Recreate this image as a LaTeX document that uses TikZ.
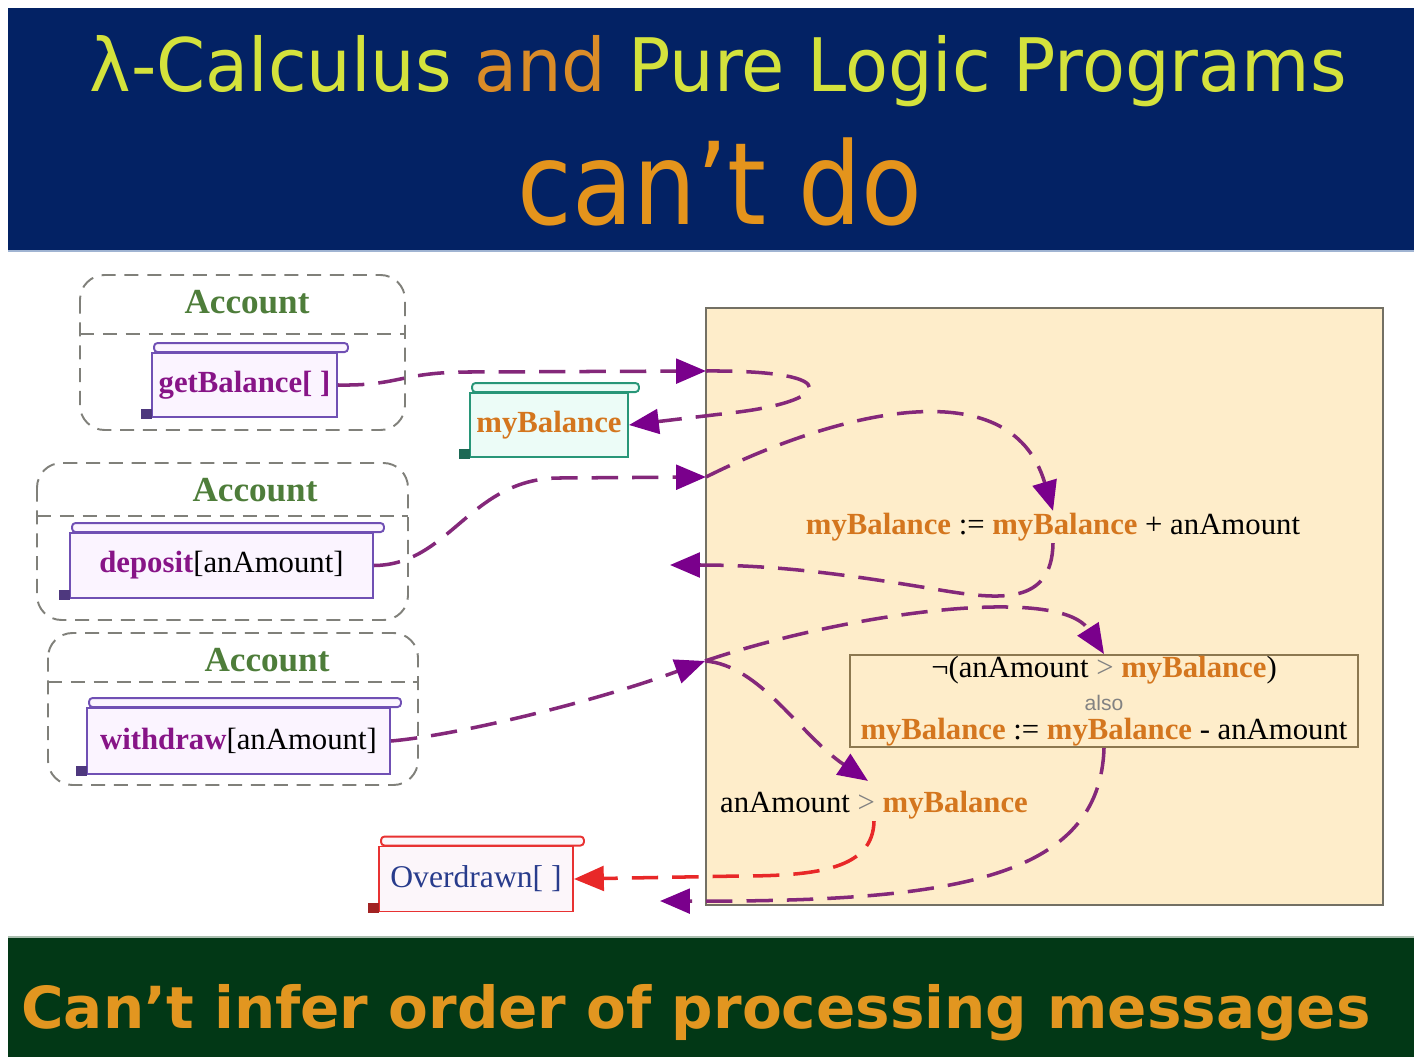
\documentclass[tikz,border=0pt]{standalone}
\usepackage{graphicx}
\usepackage{fontspec}
\setmainfont{Liberation Serif}
\newfontfamily\headfont{DejaVu Sans}
\newfontfamily\labelsans{Liberation Sans}
\usetikzlibrary{arrows.meta,calc}

\definecolor{bandblue}{RGB}{3,34,100}
\definecolor{bandgreen}{RGB}{2,56,22}
\definecolor{titleyel}{RGB}{212,226,60}
\definecolor{andorg}{RGB}{218,140,40}
\definecolor{cantorg}{RGB}{228,148,28}
\definecolor{footorg}{RGB}{226,150,32}
\definecolor{beige}{RGB}{254,237,202}
\definecolor{boxgray}{RGB}{115,112,100}
\definecolor{negframe}{RGB}{140,120,80}
\definecolor{acctgray}{RGB}{128,128,122}
\definecolor{acctgreen}{RGB}{78,125,58}
\definecolor{methpurple}{RGB}{135,20,135}
\definecolor{scrollpurple}{RGB}{112,80,180}
\definecolor{scrollfill}{RGB}{251,244,255}
\definecolor{scrollteal}{RGB}{40,150,120}
\definecolor{tealfill}{RGB}{236,252,247}
\definecolor{scrollred}{RGB}{232,50,50}
\definecolor{redfill}{RGB}{252,246,250}
\definecolor{varorange}{RGB}{212,118,30}
\definecolor{errblue}{RGB}{40,60,140}
\definecolor{msgline}{RGB}{132,40,122}
\definecolor{tipcol}{RGB}{122,0,140}
\definecolor{errred}{RGB}{232,40,40}
\definecolor{opgray}{RGB}{130,130,130}

\def\pxu{0.02cm}
\newcommand\dfont{\fontsize{17.5}{21}\selectfont}
\newcommand\vb[1]{\textcolor{varorange}{\bfseries #1}}

% scroll-shaped message node: name, position, width, height, border, fill, text
\newcommand\scrollnode[7]{%
  \node[scrollbody, draw=#5, fill=#6, minimum width=#3*\pxu, minimum height=#4*\pxu] (#1) at #2 {#7};
  \draw[line width=1.1pt, draw=#5, fill=#6, rounded corners=2pt]
    ($(#1.north west)+(3,-9)$) rectangle ($(#1.north east)+(10,0)$);
  \fill[#5!70!black] ($(#1.south west)+(-10,-9)$) rectangle ($(#1.south west)+(1,1)$);
}

\begin{document}
\begin{tikzpicture}[x=0.02cm,y=-0.02cm,
  acct/.style={draw=acctgray, dash pattern=on 8pt off 5pt, line width=1.1pt, rounded corners=14pt},
  acctline/.style={draw=acctgray, dash pattern=on 8pt off 5pt, line width=1.1pt},
  accttitle/.style={font=\fontsize{20}{22}\selectfont\bfseries, text=acctgreen},
  scrollbody/.style={line width=1.1pt, inner sep=0pt, font=\dfont},
  stmt/.style={font=\dfont, inner sep=1pt},
  msg/.style={draw=msgline, line width=2pt, dash pattern=on 15pt off 8pt,
    -{Triangle[length=17pt,width=14pt,color=tipcol]}},
  errmsg/.style={draw=errred, line width=2pt, dash pattern=on 15pt off 8pt,
    -{Triangle[length=17pt,width=14pt,color=errred]}}]

\useasboundingbox (0,0) rectangle (1419,1057);
\fill[white] (0,0) rectangle (1419,1057);

% header band
\fill[bandblue] (8,8) rectangle (1414,250);
\draw[color={rgb,255:red,160;green,180;blue,210}, line width=1.5pt] (8,251) -- (1414,251);
\node[font=\headfont\fontsize{40}{44}\selectfont, anchor=base, inner sep=0pt] (title) at (718,92)
  {\scalebox{1}[1.05]{\textcolor{titleyel}{λ-Calculus} \textcolor{andorg}{and} \textcolor{titleyel}{Pure Logic Programs}}};
\node[font=\headfont\fontsize{65}{70}\selectfont, text=cantorg, anchor=base, inner sep=0pt] (cant) at (720,225)
  {\scalebox{0.87}[1]{can’t do}};

% footer band
\draw[color={rgb,255:red,170;green,190;blue,175}, line width=1.5pt] (8,937) -- (1414,937);
\fill[bandgreen] (8,938) rectangle (1414,1057);
\node[font=\headfont\bfseries\fontsize{33}{36}\selectfont, text=footorg, anchor=base, inner sep=0pt] (foot) at (696,1028)
  {Can’t infer order of processing messages};

% behaviour area
\draw[fill=beige, draw=boxgray, line width=1.2pt] (706,308) rectangle (1383,905);

% account actors
\draw[acct] (80,275) rectangle (405,430);
\draw[acctline] (80,334) -- (405,334);
\node[accttitle] (acc1) at (247,302) {Account};
\draw[acct] (37,463) rectangle (408,620);
\draw[acctline] (37,516) -- (408,516);
\node[accttitle] (acc2) at (255,490) {Account};
\draw[acct] (48,633) rectangle (418,785);
\draw[acctline] (48,682) -- (418,682);
\node[accttitle] (acc3) at (267,660) {Account};

% messages
\scrollnode{gb}{(244.5,385)}{185}{64}{scrollpurple}{scrollfill}{\textcolor{methpurple}{\bfseries getBalance[ ]}}
\scrollnode{dep}{(221.5,565.5)}{303}{65}{scrollpurple}{scrollfill}{\textcolor{methpurple}{\bfseries deposit}[anAmount]}
\scrollnode{wd}{(238.5,741)}{303}{66}{scrollpurple}{scrollfill}{\textcolor{methpurple}{\bfseries withdraw}[anAmount]}
\scrollnode{myb}{(549,425)}{158}{64}{scrollteal}{tealfill}{\vb{myBalance}}
\scrollnode{ovd}{(476,879)}{194}{65}{scrollred}{redfill}{\fontsize{18}{21}\selectfont\textcolor{errblue}{Overdrawn[ ]}}

% statements inside the behaviour
\node[stmt] (upd) at (1053,527) {\vb{myBalance} := \vb{myBalance} + anAmount};
\node[draw=negframe, line width=1.1pt, minimum width=508*\pxu, minimum height=92*\pxu, inner sep=0pt] (negbox) at (1104,701) {};
\node[stmt] (negcond) at (1104,670) {¬(anAmount \textcolor{opgray}{>} \vb{myBalance})};
\node[font=\labelsans\fontsize{12}{14}\selectfont, text=opgray, inner sep=0pt] (also) at (1104,703) {also};
\node[stmt] (negupd) at (1104,732) {\vb{myBalance} := \vb{myBalance} - anAmount};
\node[stmt] (gt) at (874,805) {anAmount \textcolor{opgray}{>} \vb{myBalance}};

% arrival points on the behaviour edge and return points
\coordinate (inGB) at (706,371);
\coordinate (inDep) at (706,477);
\coordinate (inWd) at (705,661);
\coordinate (retDep) at (670,565);
\coordinate (retWd) at (660,901);

% getBalance
\draw[msg] (gb.east) .. controls (400,386) and (400,372) .. (470,372) -- (inGB);
\draw[msg] (inGB) .. controls (850,370) and (830,402) .. (730,413) -- (myb.east);
% deposit
\draw[msg] (dep.east) .. controls (450,565) and (470,478) .. (560,478) -- (inDep);
\draw[msg] (inDep) .. controls (830,415) and (1010,365) .. (upd.north);
\draw[msg] (upd.south) .. controls (1052,605) and (1000,600) .. (940,590)
  .. controls (850,575) and (780,565) .. (retDep);
% withdraw
\draw[msg] (wd.east) .. controls (460,735) and (600,700) .. (inWd);
\draw[msg] (inWd) .. controls (850,612) and (1060,585) .. (negbox.north);
\draw[msg] (inWd) .. controls (760,665) and (800,735) .. ($(gt.north)+(-6,-8)$);
\draw[errmsg] (gt.south) .. controls (873,868) and (820,876) .. (740,876) -- (ovd.east);
\draw[msg] (negbox.south) .. controls (1100,880) and (950,902) .. (retWd);

\end{tikzpicture}
\end{document}
